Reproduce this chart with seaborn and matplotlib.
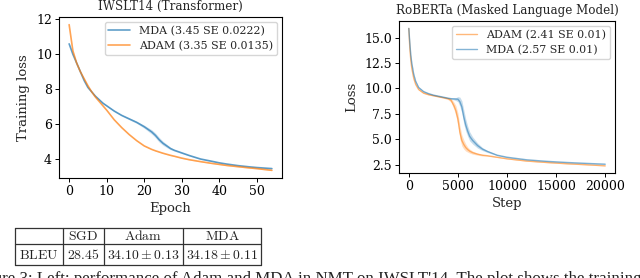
import numpy as np
import pandas as pd
import matplotlib
matplotlib.use("Agg")
import matplotlib.pyplot as plt
import seaborn as sns

# ---------------- data ----------------
epochs = [0, 1, 2, 3, 4, 5, 6, 7, 8, 9, 10, 12, 14, 16, 18, 20, 21, 22, 23, 24,
          25, 26, 27, 28, 30, 32, 35, 38, 40, 42, 45, 48, 50, 52, 54]
mda_nmt = [10.6, 10.0, 9.5, 9.0, 8.5, 8.1, 7.85, 7.6, 7.4, 7.2, 7.05, 6.75, 6.5,
           6.3, 6.1, 5.85, 5.7, 5.55, 5.35, 5.1, 4.9, 4.75, 4.6, 4.5, 4.35, 4.2,
           4.0, 3.87, 3.78, 3.71, 3.62, 3.55, 3.51, 3.48, 3.45]
mda_nmt_se = [0.03, 0.03, 0.04, 0.04, 0.05, 0.05, 0.04, 0.04, 0.04, 0.04, 0.04,
              0.04, 0.04, 0.05, 0.06, 0.09, 0.11, 0.13, 0.14, 0.14, 0.12, 0.1,
              0.07, 0.05, 0.04, 0.03, 0.03, 0.03, 0.02, 0.02, 0.02, 0.02, 0.02,
              0.02, 0.02]
adam_nmt = [11.7, 10.2, 9.5, 9.0, 8.6, 8.2, 7.85, 7.55, 7.3, 7.05, 6.8, 6.25,
            5.8, 5.4, 5.05, 4.75, 4.65, 4.55, 4.47, 4.4, 4.33, 4.27, 4.21, 4.16,
            4.05, 3.96, 3.85, 3.75, 3.69, 3.63, 3.56, 3.49, 3.45, 3.4, 3.35]
adam_nmt_se = [0.02] * len(epochs)

steps = [0, 100, 200, 300, 500, 700, 1000, 1500, 2000, 2500, 3000, 3500, 4000,
         4300, 4600, 4800, 5000, 5200, 5400, 5600, 5800, 6000, 6200, 6500, 7000,
         7500, 8000, 9000, 10000, 12000, 14000, 16000, 18000, 20000]
mda_mlm = [15.9, 14.5, 13.3, 12.5, 11.4, 10.7, 10.1, 9.7, 9.5, 9.35, 9.25, 9.15,
           9.05, 9.0, 8.98, 8.96, 8.95, 8.7, 8.2, 7.2, 6.4, 5.8, 5.3, 4.9, 4.4,
           4.05, 3.82, 3.45, 3.25, 3.0, 2.85, 2.74, 2.65, 2.57]
mda_mlm_se = [0.05, 0.05, 0.05, 0.05, 0.05, 0.05, 0.05, 0.05, 0.05, 0.05, 0.05,
              0.05, 0.05, 0.05, 0.1, 0.15, 0.25, 0.45, 0.6, 0.7, 0.6, 0.5, 0.45,
              0.35, 0.25, 0.15, 0.1, 0.05, 0.04, 0.03, 0.03, 0.03, 0.03, 0.03]
adam_mlm = [15.9, 14.0, 12.8, 12.0, 11.0, 10.4, 9.9, 9.55, 9.4, 9.3, 9.2, 9.1,
            9.0, 8.85, 8.3, 7.8, 7.0, 5.7, 4.9, 4.5, 4.2, 4.0, 3.85, 3.7, 3.55,
            3.45, 3.4, 3.25, 3.1, 2.88, 2.74, 2.62, 2.52, 2.41]
adam_mlm_se = [0.05, 0.05, 0.05, 0.05, 0.05, 0.05, 0.05, 0.05, 0.05, 0.05, 0.05,
               0.05, 0.1, 0.2, 0.35, 0.5, 0.6, 0.65, 0.55, 0.45, 0.35, 0.25, 0.2,
               0.15, 0.1, 0.08, 0.05, 0.04, 0.03, 0.03, 0.03, 0.03, 0.03, 0.03]

nmt_labels = ["MDA (3.45 SE 0.0222)", "ADAM (3.35 SE 0.0135)"]
mlm_labels = ["ADAM (2.41 SE 0.01)", "MDA (2.57 SE 0.01)"]

table_cols = ["", "SGD", "Adam", "MDA"]
table_row = ["BLEU", "28.45", r"34.10 \pm 0.13", r"34.18 \pm 0.11"]

caption = ("Figure 3: Left: performance of Adam and MDA in NMT on IWSLT'14. "
           "The plot shows the training loss")

# ---------------- style ----------------
sns.set_theme(style="ticks")
plt.rcParams["font.family"] = ["DejaVu Serif"]
plt.rcParams["mathtext.fontset"] = "cm"
plt.rcParams["axes.edgecolor"] = "black"
plt.rcParams["axes.linewidth"] = 0.8
plt.rcParams["xtick.color"] = "black"
plt.rcParams["ytick.color"] = "black"

blue = "#1f77b4"
orange = "#ff7f0e"
fs_tick = 9
fs_lab = 9.5
fs_title = 8.6
fs_leg = 7.9

fig = plt.figure(figsize=(6.4, 2.78), dpi=100)
ax1 = fig.add_axes([59 / 640, 1 - 178 / 278, 223 / 640, 161 / 278])
ax2 = fig.add_axes([399 / 640, 1 - 173 / 278, 216 / 640, 152 / 278])

leg_kw = dict(loc="upper right", fontsize=fs_leg, frameon=True, fancybox=True,
              handlelength=2.0, handletextpad=0.8, borderpad=0.35,
              labelspacing=0.45, borderaxespad=0.45)

# left panel
nmt = pd.DataFrame({"Epoch": epochs * 2,
                    "loss": mda_nmt + adam_nmt,
                    "opt": [nmt_labels[0]] * len(epochs) + [nmt_labels[1]] * len(epochs)})
sns.lineplot(data=nmt, x="Epoch", y="loss", hue="opt",
             palette=[blue, orange], ax=ax1, lw=1.2, alpha=0.7)
for m, s, c in [(mda_nmt, mda_nmt_se, blue), (adam_nmt, adam_nmt_se, orange)]:
    m = np.array(m); s = np.array(s)
    ax1.fill_between(epochs, m - s, m + s, color=c, alpha=0.2, lw=0)
ax1.set_title("IWSLT14 (Transformer)", fontsize=fs_title, pad=5)
ax1.set_xlabel("Epoch", fontsize=fs_lab, labelpad=3)
ax1.set_ylabel("Training loss", fontsize=fs_lab, labelpad=4)
ax1.set_yticks([4, 6, 8, 10, 12])
ax1.set_xticks([0, 10, 20, 30, 40, 50])
ax1.tick_params(labelsize=fs_tick, length=3, width=0.7, pad=2)
leg = ax1.legend(**leg_kw)
leg.get_frame().set_edgecolor("#cccccc")
for spine in ax1.spines.values():
    spine.set_visible(True)

# right panel
mlm = pd.DataFrame({"Step": steps * 2,
                    "loss": adam_mlm + mda_mlm,
                    "opt": [mlm_labels[0]] * len(steps) + [mlm_labels[1]] * len(steps)})
sns.lineplot(data=mlm, x="Step", y="loss", hue="opt",
             palette=[orange, blue], ax=ax2, lw=1.0, alpha=0.55)
for m, s, c in [(adam_mlm, adam_mlm_se, orange), (mda_mlm, mda_mlm_se, blue)]:
    m = np.array(m); s = np.array(s)
    ax2.fill_between(steps, m - s, m + s, color=c, alpha=0.25, lw=0)
ax2.set_title("RoBERTa (Masked Language Model)", fontsize=fs_title, pad=5)
ax2.set_xlabel("Step", fontsize=fs_lab, labelpad=3)
ax2.set_ylabel("Loss", fontsize=fs_lab, labelpad=4)
ax2.set_yticks([2.5, 5.0, 7.5, 10.0, 12.5, 15.0])
ax2.set_xticks([0, 5000, 10000, 15000, 20000])
ax2.tick_params(labelsize=fs_tick, length=3, width=0.7, pad=2)
leg2 = ax2.legend(**leg_kw)
leg2.get_frame().set_edgecolor("#cccccc")
for spine in ax2.spines.values():
    spine.set_visible(True)

# table (drawn in pixel coordinates of its own axes)
tx0, ty_top, tw, th = 15, 228, 246, 37
tax = fig.add_axes([tx0 / 640, 1 - (ty_top + th) / 278, tw / 640, th / 278])
tax.set_xlim(0, tw)
tax.set_ylim(th, 0)
tax.axis("off")
col_edges = [0, 48, 89, 168, 246]
row_edges = [0, 16, 37]
lc = "#333333"
for xe in col_edges:
    tax.plot([xe, xe], [0, th], color=lc, lw=0.9, clip_on=False)
for ye in row_edges:
    tax.plot([0, tw], [ye, ye], color=lc, lw=0.9, clip_on=False)
rows = [table_cols, table_row]
for ri, row in enumerate(rows):
    yc = (row_edges[ri] + row_edges[ri + 1]) / 2
    for ci, txt in enumerate(row):
        if not txt:
            continue
        xc = (col_edges[ci] + col_edges[ci + 1]) / 2
        if ri == 0 or ci == 0:
            s = "$\\mathrm{%s}$" % txt
        else:
            s = "$%s$" % txt
        tax.text(xc, yc + 0.5, s, ha="center", va="center", fontsize=9.9,
                 color="#222222")

# caption (cut off at the bottom edge, as in the source page)
fig.text(-0.045, -5 / 278, caption, fontsize=12.2, family="Liberation Serif",
         ha="left", va="baseline", color="#222222")

fig.savefig("out.png", dpi=100)
